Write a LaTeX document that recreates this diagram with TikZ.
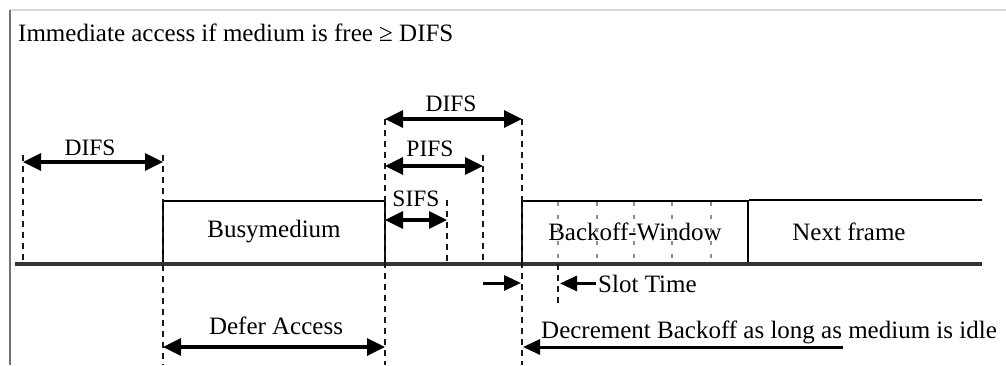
\documentclass[tikz,border=0pt]{standalone}
\usepackage{fontspec}
\setmainfont{Liberation Serif}
\usetikzlibrary{arrows.meta, positioning}

\begin{document}
\begin{tikzpicture}[
    x=1pt, y=-1pt,
    % Estilos de cajas, lineas y flechas
    txt/.style={font=\fontsize{25}{30}\selectfont},
    lbl/.style={txt, inner sep=0pt, anchor=base},
    acr/.style={lbl, font=\fontsize{23.5}{28}\selectfont},
    medium/.style={rectangle, draw=black, line width=2.4pt, inner sep=0pt, minimum height=62pt},
    timeline/.style={draw=black!80, line width=3.4pt},
    guide/.style={draw=black!90, line width=2.6pt, dash pattern=on 6pt off 5pt},
    slotmark/.style={draw=black!45, line width=1.8pt, dash pattern=on 4pt off 9pt},
    dimarrow/.style={line width=3.2pt, {Triangle[length=18pt,width=17pt]}-{Triangle[length=18pt,width=17pt]}},
    onearrow/.style={line width=3pt, -{Triangle[length=17pt,width=15pt]}}
    ]
    \useasboundingbox (0,0) rectangle (1006,365);

    % Marco
    \draw[draw=black!15, line width=1.2pt] (10,10) -- (1006,10);
    \draw[draw=black!55, line width=1.6pt] (10,10) -- (10,365);

    % Instantes sobre la linea de tiempo
    \coordinate (tstart) at (15,264);
    \coordinate (t0) at (23,264);
    \coordinate (t1) at (163,264);
    \coordinate (t2) at (385,264);
    \coordinate (t3) at (447,264);
    \coordinate (t4) at (483,264);
    \coordinate (t5) at (522,264);
    \coordinate (ts) at (558,264);
    \coordinate (tend) at (982,264);

    % Alturas de las cotas
    \coordinate (lvDifsTop) at (0,119);
    \coordinate (lvDifs) at (0,162);
    \coordinate (lvPifs) at (0,166);
    \coordinate (lvSifs) at (0,220);
    \coordinate (lvSlot) at (0,283);
    \coordinate (lvSlotEnd) at (0,307);
    \coordinate (lvDefer) at (0,347);
    \coordinate (lvBottom) at (0,365);
    \coordinate (decrStart) at (843,347);

    % Nodos
    \node (title) [lbl, anchor=base west] at (18,41) {Immediate access if medium is free ≥ DIFS};
    \node (busy) [medium, txt, minimum width=222pt] at (274,232) {Busymedium};
    \node (backoff) [medium, txt, minimum width=226pt] at (635,232) {Backoff-Window};
    \node (next) [txt] at (849,232) {Next frame};
    \draw[medium] (backoff.north east) -- (tend |- backoff.north);

    % Ranuras de la ventana
    \foreach \x in {558,597,634,672,711}
        \draw[slotmark] ([yshift=-2pt]\x,0 |- backoff.north) -- ([yshift=2pt]\x,0 |- backoff.south);

    % Linea de tiempo
    \draw[timeline] (tstart) -- (tend);

    % Guias discontinuas
    \draw[guide] ([yshift=7pt]t0 |- lvDifs) -- (t0);
    \draw[guide] ([yshift=7pt]t1 |- lvDifs) -- (t1 |- lvBottom);
    \draw[guide] (t2 |- lvDifsTop) -- (t2 |- lvBottom);
    \draw[guide] ([yshift=20pt]t3 |- lvSifs) -- (t3);
    \draw[guide] ([yshift=11pt]t4 |- lvPifs) -- (t4);
    \draw[guide] (t5 |- lvDifsTop) -- (t5 |- lvBottom);
    \draw[guide] (ts) -- (ts |- lvSlotEnd);

    % Cotas
    \draw[dimarrow] (t0 |- lvDifs) -- (t1 |- lvDifs);
    \node (difsA) [acr] at (90,155) {DIFS};
    \draw[dimarrow] (t2 |- lvDifsTop) -- (t5 |- lvDifsTop);
    \node (difsB) [acr] at (451,111) {DIFS};
    \draw[dimarrow] (t2 |- lvPifs) -- (t4 |- lvPifs);
    \node (pifs) [acr] at (430,156) {PIFS};
    \draw[dimarrow] (t2 |- lvSifs) -- (t3 |- lvSifs);
    \node (sifs) [acr] at (416,206) {SIFS};
    \draw[dimarrow] (t1 |- lvDefer) -- (t2 |- lvDefer);
    \node (defer) [lbl] at (276,334) {Defer Access};

    % Flechas simples
    \draw[onearrow] (t4 |- lvSlot) -- ([xshift=-1pt]t5 |- lvSlot);
    \node (slottxt) [lbl, anchor=base west] at (598,292) {Slot Time};
    \draw[onearrow] ([xshift=-2pt]slottxt.west) -- ([xshift=2pt]ts |- slottxt.west);
    \node (decr) [lbl, anchor=base west] at (541,338) {Decrement Backoff as long as medium is idle};
    \draw[onearrow] (decrStart) -- ([xshift=1pt]t5 |- lvDefer);
\end{tikzpicture}
\end{document}
